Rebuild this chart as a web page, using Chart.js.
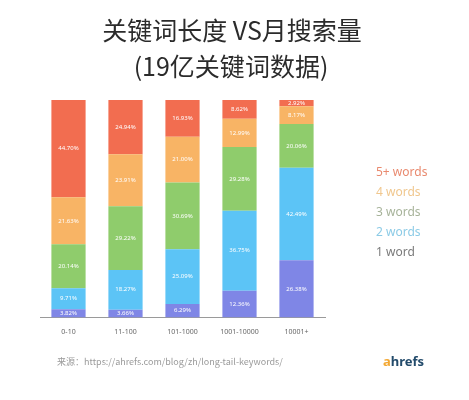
<!DOCTYPE html>
<html>
<head>
<meta charset="utf-8">
<script src="https://cdn.jsdelivr.net/npm/chart.js@4.4.0/dist/chart.umd.min.js"></script>
<style>
  html, body { margin: 0; padding: 0; background: #fff; }
  #wrap { width: 469px; height: 400px; position: relative; }
</style>
</head>
<body>
<div id="wrap"><canvas id="graph"></canvas></div>
<script>
// Données (en %)
const categories = ["0-10", "11-100", "101-1000", "1001-10000", "10001+"];
const oneWord = [3.82, 3.66, 6.29, 12.36, 26.38];
const twoWords = [9.71, 18.27, 25.09, 36.75, 42.49];
const threeWords = [20.14, 29.22, 30.69, 29.28, 20.06];
const fourWords = [21.63, 23.91, 21.00, 12.99, 8.17];
const fivePlusWords = [44.70, 24.94, 16.93, 8.62, 2.92];

const titleLines = ["关键词长度 VS月搜索量", "(19亿关键词数据)"];
const sourceText = "来源：https://ahrefs.com/blog/zh/long-tail-keywords/";

const series = [
    { label: "1 word", data: oneWord, color: "#7f86e6", text: "#7a7a7a" },
    { label: "2 words", data: twoWords, color: "#5cc4f6", text: "#8ccbe6" },
    { label: "3 words", data: threeWords, color: "#8fcc6c", text: "#a7b39a" },
    { label: "4 words", data: fourWords, color: "#f8b465", text: "#f0c78e" },
    { label: "5+ words", data: fivePlusWords, color: "#f26d50", text: "#e98a6f" }
];

// Titre, étiquettes, légende et source
const decor = {
    id: "decor",
    afterDatasetsDraw(chart) {
        const c = chart.ctx;
        c.save();
        // étiquettes blanches dans les barres
        c.fillStyle = "#ffffff";
        c.font = "6px 'Noto Sans'";
        c.textAlign = "center";
        c.textBaseline = "middle";
        chart.data.datasets.forEach((ds, i) => {
            chart.getDatasetMeta(i).data.forEach((bar, j) => {
                const mid = (bar.y + bar.base) / 2;
                c.fillText(ds.data[j].toFixed(2) + "%", bar.x, mid);
            });
        });
        c.restore();
    },
    afterDraw(chart) {
        const c = chart.ctx;
        c.save();
        // titre
        c.fillStyle = "#2b2b2b";
        c.font = "25px 'Noto Sans CJK SC'";
        c.textAlign = "center";
        c.textBaseline = "middle";
        c.fillText(titleLines[0], 232, 30);
        c.fillText(titleLines[1], 231, 66);

        // légende (ordre inversé)
        c.font = "12px 'Noto Sans'";
        c.textAlign = "left";
        const legendOrder = chart.data.datasets.slice().reverse();
        legendOrder.forEach((ds, k) => {
            c.fillStyle = series.find(s => s.label === ds.label).text;
            c.fillText(ds.label, 376, 173 + k * 20);
        });

        // source
        c.fillStyle = "#9a9a9a";
        c.font = "9px 'Noto Sans CJK SC'";
        c.fillText(sourceText, 57, 362);

        // logo ahrefs
        c.font = "bold 13px 'Noto Sans'";
        c.fillStyle = "#f3a833";
        c.fillText("a", 383, 362);
        const w = c.measureText("a").width;
        c.fillStyle = "#234b6b";
        c.fillText("hrefs", 383 + w, 362);
        c.restore();
    }
};

new Chart(document.getElementById("graph"), {
    type: "bar",
    data: {
        labels: categories,
        datasets: series.map(s => ({
            label: s.label,
            data: s.data,
            backgroundColor: s.color,
            barPercentage: 0.6,
            categoryPercentage: 1
        }))
    },
    options: {
        responsive: true,
        maintainAspectRatio: false,
        animation: false,
        layout: { padding: { top: 100, left: 40, right: 144, bottom: 62 } },
        plugins: {
            legend: { display: false },
            title: { display: false },
            tooltip: { enabled: false }
        },
        scales: {
            x: {
                stacked: true,
                grid: { display: false },
                border: { display: true, color: "#9a9a9a" },
                ticks: { color: "#666", font: { size: 7, family: "Noto Sans" }, padding: 2, maxRotation: 0 }
            },
            y: {
                stacked: true,
                display: false,
                min: 0,
                max: 100
            }
        }
    },
    plugins: [decor]
});
</script>
</body>
</html>
